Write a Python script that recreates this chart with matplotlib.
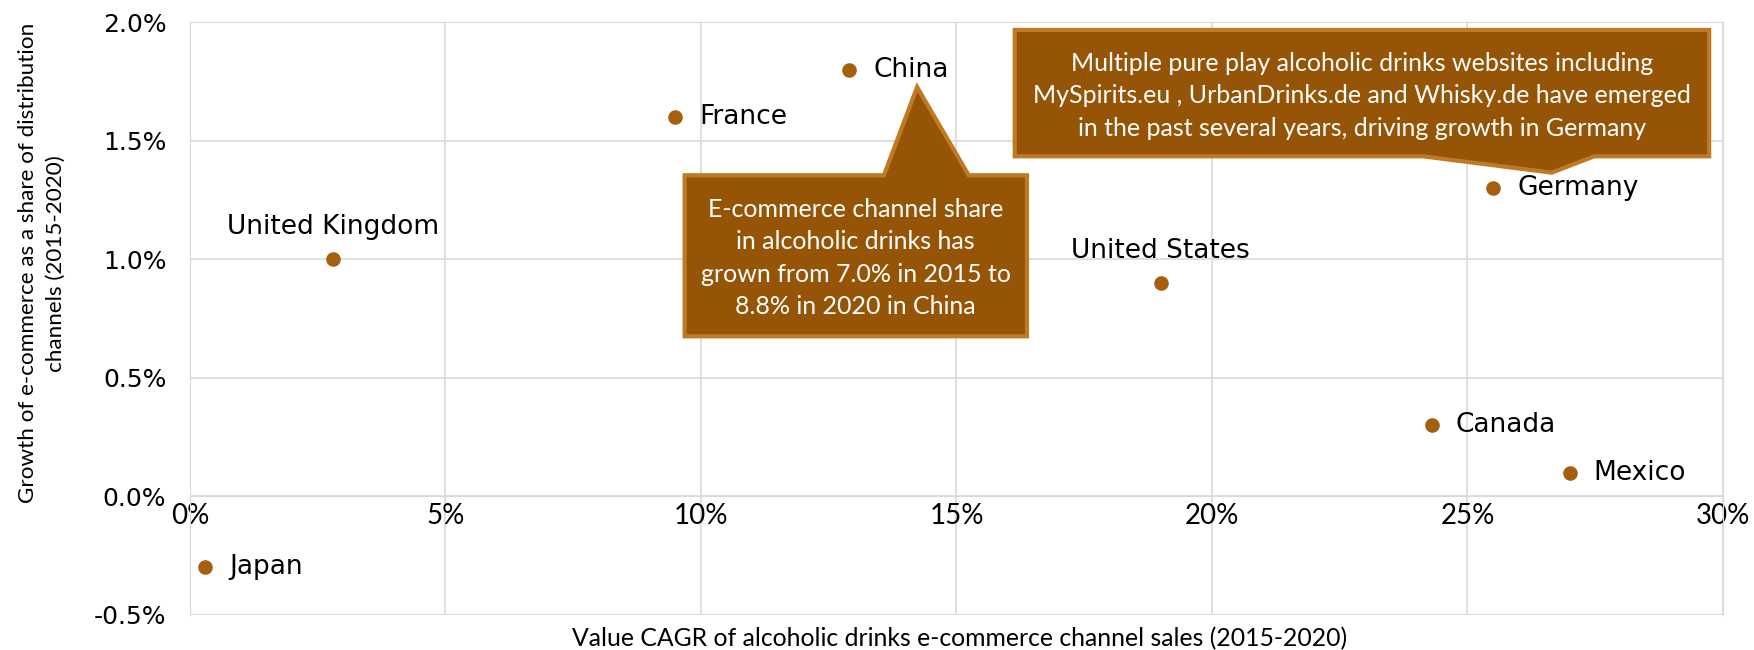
import matplotlib
matplotlib.use('Agg')
import matplotlib.pyplot as plt
from matplotlib.patches import Polygon
from matplotlib.ticker import FuncFormatter

countries = ['Japan', 'United Kingdom', 'France', 'China', 'United States', 'Germany', 'Canada', 'Mexico']
cagr = [0.3, 2.8, 9.5, 12.9, 19.0, 25.5, 24.3, 27.0]          # % value CAGR 2015-2020
share_growth = [-0.3, 1.0, 1.6, 1.8, 0.9, 1.3, 0.3, 0.1]       # % points growth
label_side = ['right', 'above', 'right', 'right', 'above', 'right', 'right', 'right']

china_note = 'E-commerce channel share\nin alcoholic drinks has\ngrown from 7.0% in 2015 to\n8.8% in 2020 in China'
germany_note = ('Multiple pure play alcoholic drinks websites including\n'
                'MySpirits.eu , UrbanDrinks.de and Whisky.de have emerged\n'
                'in the past several years, driving growth in Germany')

brown = '#955406'
edge = '#c07a24'
dot = '#a4600f'
grid = '#d9d9d9'

fig = plt.figure(figsize=(17.54, 6.5), dpi=100)
ax = fig.add_axes([0.1083, 0.054, 0.8740, 0.912])

ax.set_xlim(0, 30)
ax.set_ylim(-0.5, 2.0)
ax.set_xticks(range(0, 31, 5))
ax.set_yticks([-0.5, 0, 0.5, 1.0, 1.5, 2.0])
ax.xaxis.set_major_formatter(FuncFormatter(lambda v, p: f'{v:.0f}%'))
ax.yaxis.set_major_formatter(FuncFormatter(lambda v, p: f'{v:.1f}%'))
ax.grid(True, color=grid, linewidth=1.2)
ax.set_axisbelow(True)
for s in ['top', 'right', 'left']:
    ax.spines[s].set_color(grid)
# x labels sit on the zero line like Excel's crossing axis
ax.spines['bottom'].set_position(('data', 0))
ax.spines['bottom'].set_color(grid)
ax.tick_params(length=0)
ax.tick_params(axis='y', labelsize=18, pad=17)
ax.tick_params(axis='x', labelsize=20, pad=5)
for t in ax.get_yticklabels():
    t.set_fontfamily('DejaVu Sans')
for t in ax.get_xticklabels():
    t.set_fontfamily('Lato')
ax.axhline(-0.5, color=grid, linewidth=1.2)

ax.scatter(cagr, share_growth, s=90, color=dot, zorder=4)
for name, x, y, side in zip(countries, cagr, share_growth, label_side):
    if side == 'right':
        ax.annotate(name, (x, y), xytext=(24, 0), textcoords='offset pixels',
                    ha='left', va='center', fontsize=19, family='DejaVu Sans')
    else:
        ax.annotate(name, (x, y), xytext=(0, 32), textcoords='offset pixels',
                    ha='center', va='center', fontsize=19, family='DejaVu Sans')

# callout boxes
china_shape = [(9.68, 0.675), (16.38, 0.675), (16.38, 1.354), (15.24, 1.354),
               (14.23, 1.726), (13.58, 1.354), (9.68, 1.354)]
ax.add_patch(Polygon(china_shape, closed=True, facecolor=brown, edgecolor=edge,
                     linewidth=3, zorder=5, clip_on=False))
ax.text(13.03, 1.005, china_note, ha='center', va='center', color='white',
        fontsize=18, family='Lato', linespacing=1.5, zorder=6)

germany_shape = [(16.14, 1.434), (24.13, 1.434), (26.65, 1.365), (27.48, 1.434),
                 (29.73, 1.434), (29.73, 1.967), (16.14, 1.967)]
ax.add_patch(Polygon(germany_shape, closed=True, facecolor=brown, edgecolor=edge,
                     linewidth=3, zorder=5, clip_on=False))
ax.text(22.93, 1.69, germany_note, ha='center', va='center', color='white',
        fontsize=18, family='Lato', linespacing=1.5, zorder=6)

fig.text(0.547, 0.017, 'Value CAGR of alcoholic drinks e-commerce channel sales (2015-2020)',
         ha='center', va='center', fontsize=17.8, family='Lato')
fig.text(0.0237, 0.595, 'Growth of e-commerce as a share of distribution\nchannels (2015-2020)',
         ha='center', va='center', rotation=90, fontsize=16.2, family='Lato', linespacing=1.5)

fig.savefig('out.png', dpi=100)
